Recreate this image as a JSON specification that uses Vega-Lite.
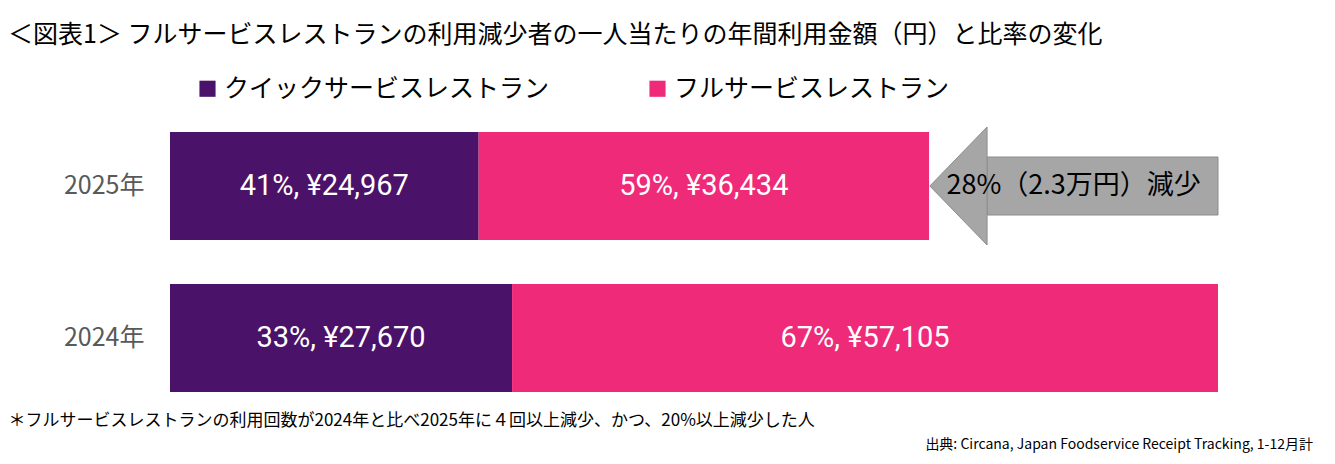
{
  "$schema": "https://vega.github.io/schema/vega-lite/v6.json",
  "autosize": "none",
  "width": 1335,
  "height": 404,
  "padding": {"top": 60, "left": 0, "right": 0, "bottom": 0},
  "background": "white",
  "title": {
    "text": "＜図表1＞ フルサービスレストランの利用減少者の一人当たりの年間利用金額（円）と比率の変化",
    "anchor": "start", "dx": 8, "offset": 12,
    "font": "Noto Sans CJK JP", "fontSize": 25, "fontWeight": "normal", "color": "#000"
  },
  "datasets": {
    "bars": [
      {"year": "2025年", "type": "クイックサービスレストラン", "order": 1, "value": 24967, "label": "41%, ¥24,967"},
      {"year": "2025年", "type": "フルサービスレストラン", "order": 2, "value": 36434, "label": "59%, ¥36,434"},
      {"year": "2024年", "type": "クイックサービスレストラン", "order": 1, "value": 27670, "label": "33%, ¥27,670"},
      {"year": "2024年", "type": "フルサービスレストラン", "order": 2, "value": 57105, "label": "67%, ¥57,105"}
    ],
    "arrow": [
      {"year": "2025年", "head": 66095, "end": 84775, "textx": 73100, "text": "28%（2.3万円）減少"}
    ],
    "source": [
      {"year": "2024年", "x": 84775, "text": "出典: Circana, Japan Foodservice Receipt Tracking, 1-12月計"}
    ]
  },
  "encoding": {
    "y": {
      "field": "year", "type": "nominal", "sort": ["2025年", "2024年"],
      "scale": {"range": [50, 354], "paddingInner": 0.29, "paddingOuter": 0.145},
      "axis": {"title": null, "domain": false, "ticks": false, "offset": -148, "labelPadding": 4,
        "labelFont": "Noto Sans CJK JP", "labelFontSize": 25, "labelColor": "#595959"}
    }
  },
  "layer": [
    {
      "data": {"name": "bars"},
      "transform": [
        {"stack": "value", "groupby": ["year"], "sort": [{"field": "order"}], "as": ["x0", "x1"]},
        {"calculate": "(datum.x0 + datum.x1) / 2", "as": "mid"}
      ],
      "layer": [
        {
          "mark": {"type": "bar"},
          "encoding": {
            "x": {
              "field": "x0", "type": "quantitative",
              "scale": {"domain": [0, 84775], "range": [170, 1218], "nice": false, "zero": true},
              "axis": {"labels": false, "ticks": false, "domain": false, "grid": false,
                "title": "＊フルサービスレストランの利用回数が2024年と比べ2025年に４回以上減少、かつ、20%以上減少した人",
                "titleX": 8, "titleY": -44, "titleAnchor": "start", "titleAlign": "left", "titleBaseline": "middle",
                "titleFont": "Noto Sans CJK JP", "titleFontSize": 17, "titleFontWeight": "normal", "titleColor": "#000"}
            },
            "x2": {"field": "x1"},
            "color": {
              "field": "type", "type": "nominal",
              "scale": {"domain": ["クイックサービスレストラン", "フルサービスレストラン"], "range": ["#4b1269", "#ee2a79"]},
              "legend": {"title": null, "orient": "none", "legendX": 195, "legendY": 16, "direction": "horizontal",
                "symbolType": "square", "symbolSize": 260, "labelFont": "Noto Sans CJK JP", "labelFontSize": 25,
                "labelColor": "#000", "columnPadding": 95, "labelLimit": 400}
            }
          }
        },
        {
          "mark": {"type": "text", "font": "Roboto", "fontSize": 29, "color": "white"},
          "encoding": {
            "x": {"field": "mid", "type": "quantitative"},
            "text": {"field": "label"}
          }
        }
      ]
    },
    {
      "data": {"name": "arrow"},
      "layer": [
        {
          "mark": {"type": "bar", "color": "#a6a6a6", "stroke": "#8c8c8c", "height": 58},
          "encoding": {"x": {"field": "head", "type": "quantitative"}, "x2": {"field": "end"}}
        },
        {
          "mark": {"type": "point", "shape": "M -0.97 0 L 0 -1 L 0 1 Z", "filled": true, "size": 13924,
            "color": "#a6a6a6", "stroke": "#8c8c8c", "strokeWidth": 1, "opacity": 1},
          "encoding": {"x": {"field": "head", "type": "quantitative"}}
        },
        {
          "mark": {"type": "text", "font": "Noto Sans CJK JP", "fontSize": 27, "color": "#000"},
          "encoding": {"x": {"field": "textx", "type": "quantitative"}, "text": {"field": "text"}}
        }
      ]
    },
    {
      "data": {"name": "source"},
      "mark": {"type": "text", "align": "right", "dx": 95, "dy": 107, "font": "Noto Sans CJK JP", "fontSize": 14, "color": "#000"},
      "encoding": {"x": {"field": "x", "type": "quantitative"}, "text": {"field": "text"}}
    }
  ],
  "config": {"view": {"stroke": null}}
}
